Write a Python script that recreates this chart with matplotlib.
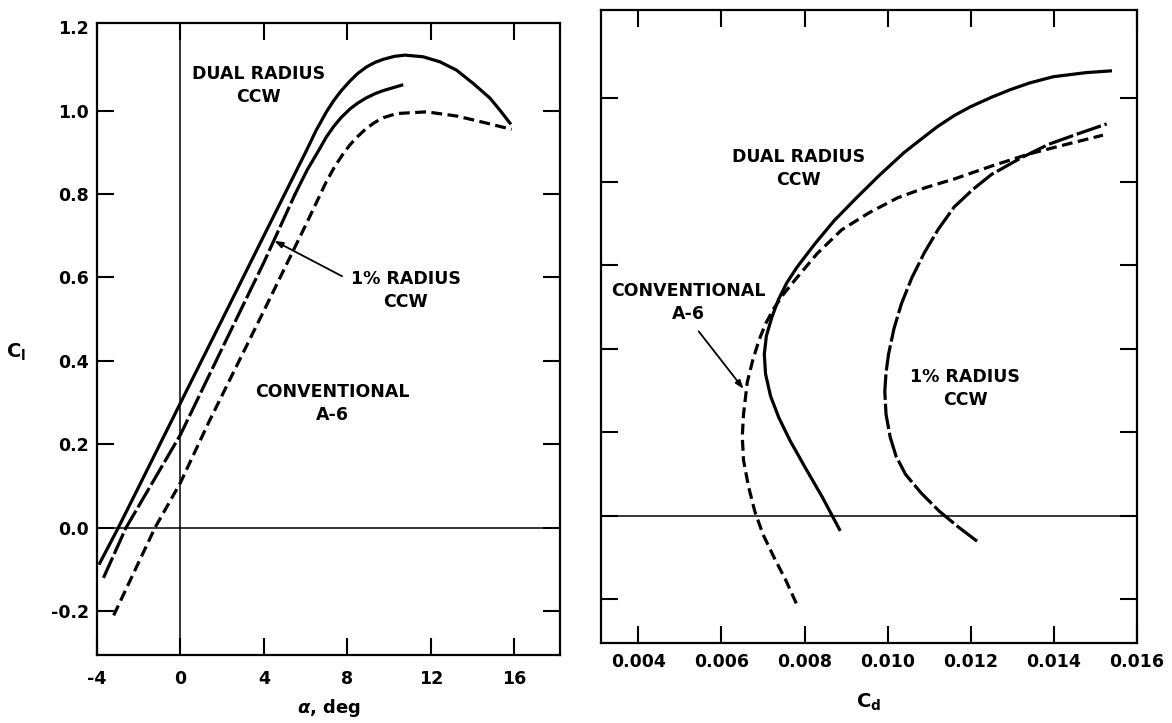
import matplotlib
matplotlib.use("Agg")
import matplotlib.pyplot as plt

plt.rcParams['font.family'] = ['DejaVu Sans']
plt.rcParams['font.weight'] = 'bold'
plt.rcParams['mathtext.fontset'] = 'dejavusans'

# ---------------- data: left panel (alpha vs Cl) ----------------
dual_alpha = [-3.87, -2.98, -2.0, 0.0, 2.0, 4.0, 5.5, 6.05, 6.5, 7.0, 7.35, 7.7, 8.13, 8.5, 8.93, 9.35, 9.73, 10.25, 10.77, 11.64, 12.44, 13.24, 14.04, 14.84, 15.32, 15.8]
dual_cl    = [-0.085, 0.0, 0.098, 0.299, 0.499, 0.70, 0.85, 0.905, 0.952, 0.997, 1.024, 1.047, 1.071, 1.089, 1.105, 1.116, 1.123, 1.13, 1.133, 1.129, 1.117, 1.097, 1.065, 1.03, 1.001, 0.97]

one_alpha = [-3.69, -2.61, 0.0, 2.0, 4.0, 5.5, 6.07, 6.6, 7.0, 7.35, 7.7, 8.13, 8.5, 8.93, 9.35, 9.73, 10.2, 10.61]
one_cl    = [-0.12, 0.0, 0.223, 0.43, 0.636, 0.80, 0.857, 0.902, 0.937, 0.962, 0.983, 1.004, 1.018, 1.031, 1.041, 1.048, 1.055, 1.061]

conv_alpha = [-3.2, -1.22, 0.0, 1.34, 4.0, 6.05, 7.0, 7.4, 7.81, 8.13, 8.5, 8.93, 9.33, 9.73, 10.37, 11.8, 13.25, 14.68, 15.88]
conv_cl    = [-0.21, 0.0, 0.108, 0.251, 0.52, 0.73, 0.83, 0.866, 0.897, 0.918, 0.938, 0.958, 0.972, 0.983, 0.993, 0.997, 0.987, 0.97, 0.955]

# ---------------- data: right panel (Cd vs Cl) ----------------
dual_cd  = [0.00884, 0.00843, 0.00800, 0.00765, 0.00738, 0.00718, 0.00706, 0.00703, 0.00708, 0.00721, 0.00737, 0.00757, 0.00782, 0.00825, 0.00871, 0.00925, 0.00979, 0.01039, 0.01080, 0.01119, 0.01160, 0.01199, 0.01250, 0.01295, 0.01341, 0.01398, 0.01478, 0.01536]
dual_cdl = [-0.033, 0.044, 0.118, 0.180, 0.235, 0.287, 0.340, 0.387, 0.431, 0.475, 0.518, 0.558, 0.596, 0.652, 0.707, 0.762, 0.815, 0.870, 0.902, 0.932, 0.959, 0.980, 1.003, 1.021, 1.037, 1.052, 1.062, 1.066]

conv_cd  = [0.00780, 0.00755, 0.00726, 0.00700, 0.00680, 0.00665, 0.00653, 0.00650, 0.00653, 0.00662, 0.00675, 0.00690, 0.00706, 0.00726, 0.00750, 0.00776, 0.00830, 0.00889, 0.00955, 0.01024, 0.01090, 0.01160, 0.01250, 0.01340, 0.01430, 0.01518]
conv_cdl = [-0.210, -0.155, -0.099, -0.045, 0.011, 0.070, 0.133, 0.190, 0.243, 0.320, 0.372, 0.420, 0.460, 0.497, 0.532, 0.564, 0.628, 0.685, 0.726, 0.762, 0.786, 0.807, 0.838, 0.867, 0.890, 0.912]

one_cd  = [0.01215, 0.01170, 0.01124, 0.01080, 0.01043, 0.01020, 0.01006, 0.00996, 0.00993, 0.00996, 0.01002, 0.01015, 0.01033, 0.01058, 0.01088, 0.01122, 0.01160, 0.01205, 0.01250, 0.01320, 0.01387, 0.01460, 0.01527]
one_cdl = [-0.061, -0.027, 0.011, 0.055, 0.099, 0.143, 0.188, 0.243, 0.298, 0.343, 0.387, 0.448, 0.508, 0.570, 0.630, 0.687, 0.740, 0.782, 0.818, 0.857, 0.890, 0.916, 0.939]

alpha_ticks = [-4, 0, 4, 8, 12, 16]
cl_ticks = [-0.2, 0.0, 0.2, 0.4, 0.6, 0.8, 1.0, 1.2]
cl_labels = ['-0.2', '0.0', '0.2', '0.4', '0.6', '0.8', '1.0', '1.2']
cd_ticks = [0.004, 0.006, 0.008, 0.010, 0.012, 0.014, 0.016]
cd_labels = ['0.004', '0.006', '0.008', '0.010', '0.012', '0.014', '0.016']

W, H = 1172, 723
fig = plt.figure(figsize=(W / 100, H / 100), dpi=100)

def px_axes(x0, y0, x1, y1):
    return fig.add_axes([x0 / W, 1 - y1 / H, (x1 - x0) / W, (y1 - y0) / H])

ax1 = px_axes(97, 23, 560, 655)
ax2 = px_axes(601, 10, 1137, 643)

LW = 2.3
fs = 12.5

for ax in (ax1, ax2):
    for s in ax.spines.values():
        s.set_linewidth(1.6)
    ax.tick_params(direction='in', length=12, width=1.5, top=True, right=True,
                   labelsize=fs)

# ---------- left panel ----------
ax1.set_xlim(-4, 18.2)
ax1.set_ylim(-0.305, 1.21)
ax1.axhline(0, color='black', lw=1.1)
ax1.axvline(0, color='black', lw=1.1)

ax1.plot(dual_alpha, dual_cl, color='black', lw=LW)
ax1.plot(one_alpha[:6], one_cl[:6], color='black', lw=LW, dashes=(7, 1.2))
ax1.plot(one_alpha[5:], one_cl[5:], color='black', lw=LW)
ax1.plot(conv_alpha, conv_cl, color='black', lw=LW, dashes=(3.4, 1.7))

ax1.set_xticks(alpha_ticks)
ax1.set_xticklabels([str(t) for t in alpha_ticks], fontweight='bold', fontsize=fs)
ax1.set_yticks(cl_ticks)
ax1.set_yticklabels(cl_labels, fontweight='bold', fontsize=fs)
ax1.tick_params(axis='x', pad=11)
ax1.tick_params(axis='y', pad=6)
t = ax1.yaxis.get_major_ticks()[-1]
t.tick1line.set_visible(False)
t.tick2line.set_visible(False)

tk = dict(fontsize=fs, fontweight='bold', ha='center', va='center', linespacing=1.35)
ax1.text(3.76, 1.06, 'DUAL RADIUS\nCCW', **tk)
ax1.text(10.8, 0.568, '1% RADIUS\nCCW', **tk)
ax1.text(7.3, 0.298, 'CONVENTIONAL\nA-6', **tk)
ax1.annotate('', xy=(4.5, 0.688), xytext=(7.75, 0.603),
             arrowprops=dict(arrowstyle='-|>,head_length=0.5,head_width=0.18',
                             color='black', lw=1.3, shrinkA=0, shrinkB=0))

# ---------- right panel ----------
ax2.set_xlim(0.0031, 0.01594)
ax2.set_ylim(-0.305, 1.212)
ax2.axhline(0, color='black', lw=1.1)

ax2.plot(dual_cd, dual_cdl, color='black', lw=LW)
ax2.plot(conv_cd, conv_cdl, color='black', lw=LW, dashes=(3.4, 1.7))
ax2.plot(one_cd, one_cdl, color='black', lw=LW, dashes=(8, 1.2))

ax2.set_xticks(cd_ticks)
ax2.set_xticklabels(cd_labels, fontweight='bold', fontsize=fs)
ax2.set_yticks(cl_ticks[:-1])
ax2.set_yticklabels([])
ax2.tick_params(axis='x', pad=7)

ax2.text(0.00785, 0.833, 'DUAL RADIUS\nCCW', **tk)
ax2.text(0.0052, 0.511, 'CONVENTIONAL\nA-6', **tk)
ax2.text(0.01187, 0.304, '1% RADIUS\nCCW', **tk)
ax2.annotate('', xy=(0.00653, 0.304), xytext=(0.00545, 0.442),
             arrowprops=dict(arrowstyle='-|>,head_length=0.5,head_width=0.18',
                             color='black', lw=1.3, shrinkA=0, shrinkB=0))

# ---------- axis labels ----------
fig.text(16 / W, 1 - 352 / H, r'$\mathbf{C}_{\mathbf{l}}$', fontsize=14,
         ha='center', va='center')
fig.text(329 / W, 1 - 708 / H, r'$\alpha$, deg', fontsize=fs + 0.5, fontweight='bold',
         ha='center', va='center')
fig.text(869 / W, 1 - 702 / H, r'$\mathbf{C}_{\mathbf{d}}$', fontsize=14,
         ha='center', va='center')

fig.savefig('out.png', dpi=100)
